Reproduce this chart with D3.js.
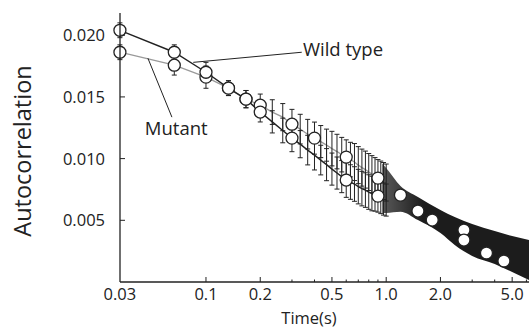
<!DOCTYPE html>
<html>
<head>
<meta charset="utf-8">
<script src="https://cdn.jsdelivr.net/npm/d3@7"></script>
<style>
  html, body { margin: 0; padding: 0; background: #fff; }
  svg { display: block; font-family: "Open Sans", "Noto Sans", sans-serif; }
</style>
</head>
<body>
<svg id="chart" width="529" height="329"></svg>
<script>
// frame times (s), 30 frames per second
const frameTimes = [0.0333, 0.0667, 0.1, 0.1333, 0.1667, 0.2, 0.2333, 0.2667, 0.3, 0.3333,
  0.3667, 0.4, 0.4333, 0.4667, 0.5, 0.5333, 0.5667, 0.6, 0.6333, 0.6667,
  0.7, 0.7333, 0.7667, 0.8, 0.8333, 0.8667, 0.9, 0.9333, 0.9667, 1.0]

const wildTypeMean = [0.0204, 0.01862, 0.0170, 0.01571, 0.01482, 0.01377, 0.01298, 0.01228, 0.01166, 0.01117,
  0.01069, 0.01028, 0.00988, 0.00951, 0.00915, 0.00883, 0.00854, 0.00826, 0.00810, 0.00794,
  0.00773, 0.00757, 0.00745, 0.00729, 0.00717, 0.00704, 0.00696, 0.00684, 0.00672, 0.00664]
const wildTypeErr = [0.0006, 0.0006, 0.0008, 0.0006, 0.0007, 0.0008, 0.0009, 0.0010, 0.0011, 0.0011,
  0.0012, 0.0012, 0.0012, 0.0013, 0.0013, 0.0013, 0.0013, 0.0014, 0.0014, 0.0014,
  0.0014, 0.0014, 0.0014, 0.0014, 0.0014, 0.0013, 0.0013, 0.0013, 0.0013, 0.0013]

const mutantMean = [0.01862, 0.01757, 0.0166, 0.01571, 0.01482, 0.01433, 0.01377, 0.01336, 0.01279, 0.01239,
  0.01198, 0.01166, 0.01138, 0.01109, 0.01081, 0.01057, 0.01032, 0.01012, 0.00992, 0.00972,
  0.00947, 0.00927, 0.00911, 0.00891, 0.00874, 0.00858, 0.00842, 0.00830, 0.00818, 0.00806]
const mutantErr = [0.0006, 0.0008, 0.0009, 0.0006, 0.0007, 0.0009, 0.0010, 0.0011, 0.0012, 0.0012,
  0.0012, 0.0013, 0.0013, 0.0013, 0.0014, 0.0014, 0.0014, 0.0014, 0.0014, 0.0015,
  0.0015, 0.0015, 0.0015, 0.0015, 0.0015, 0.0015, 0.0015, 0.0015, 0.0015, 0.0015]

// after 1 s the error bars of both series merge into one dark band
const bandTimes = [0.95, 1.0, 1.2, 1.5, 2.0, 2.4, 3.0, 4.0, 5.0, 6.2]
const bandUpper = [0.00960, 0.00923, 0.00777, 0.00688, 0.00583, 0.00526, 0.00470, 0.00413, 0.00372, 0.00340]
const bandLower = [0.00560, 0.00560, 0.00570, 0.00502, 0.00397, 0.00300, 0.00211, 0.00146, 0.00081, 0.00016]

// marked points
const wtCircleTimes = [0.0333, 0.0667, 0.1, 0.1333, 0.1667, 0.2, 0.3, 0.6, 0.9, 1.5, 1.8, 2.7, 3.6, 4.5]
const wtCircleValues = [0.0204, 0.01862, 0.0170, 0.01571, 0.01482, 0.01377, 0.01166, 0.00826, 0.00696, 0.00575, 0.00502, 0.00340, 0.00235, 0.00170]
const mutCircleTimes = [0.0333, 0.0667, 0.1, 0.1333, 0.1667, 0.2, 0.3, 0.4, 0.6, 0.9, 1.2, 2.7]
const mutCircleValues = [0.01862, 0.01757, 0.0166, 0.01571, 0.01482, 0.01433, 0.01279, 0.01166, 0.01012, 0.00842, 0.00704, 0.00421]

const xTickValues = [0.0333, 0.1, 0.2, 0.5, 1, 2, 5]
const xTickLabels = ["0.03", "0.1", "0.2", "0.5", "1.0", "2.0", "5.0"]
const xMinorTicks = [0.3, 0.4, 0.6, 0.7, 0.8, 0.9, 3, 4, 6]
const yTickValues = [0.005, 0.010, 0.015, 0.020]

const svg = d3.select("#chart")

const x = d3.scaleLog().domain([1 / 30, 6.2]).range([120, 529])
const y = d3.scaleLinear().domain([0, 0.0218]).range([282, 13])

const ink = "#222"

// lines
const line = d3.line()
  .x(d => x(d.t))
  .y(d => y(d.v))

const wtData = frameTimes.map((t, i) => ({ t: t, v: wildTypeMean[i], e: wildTypeErr[i] }))
const mutData = frameTimes.map((t, i) => ({ t: t, v: mutantMean[i], e: mutantErr[i] }))

svg.append("path")
  .datum(mutData)
  .attr("d", line)
  .attr("fill", "none")
  .attr("stroke", "#9a9a9a")
  .attr("stroke-width", 1.3)

svg.append("path")
  .datum(wtData)
  .attr("d", line)
  .attr("fill", "none")
  .attr("stroke", ink)
  .attr("stroke-width", 1.4)

// merged band (drawn under the last bars so they blend in)
const defs = svg.append("defs")
const grad = defs.append("linearGradient")
  .attr("id", "bandFill")
  .attr("gradientUnits", "userSpaceOnUse")
  .attr("x1", x(0.95)).attr("x2", x(1.6))
  .attr("y1", 0).attr("y2", 0)
grad.append("stop").attr("offset", 0).attr("stop-color", "#5a5a5a")
grad.append("stop").attr("offset", 1).attr("stop-color", "#1c1c1c")

const bandData = bandTimes.map((t, i) => ({ t: t, hi: bandUpper[i], lo: bandLower[i] }))
svg.append("path")
  .datum(bandData)
  .attr("d", d3.area()
    .x(d => x(d.t))
    .y0(d => y(d.lo))
    .y1(d => y(d.hi))
    .curve(d3.curveMonotoneX))
  .attr("fill", "url(#bandFill)")

// error bars
function drawErrorBars(data) {
  const g = svg.append("g")
    .attr("stroke", ink)
    .attr("stroke-width", 1)
  g.selectAll("line.bar")
    .data(data)
    .enter()
    .append("line")
    .attr("x1", d => x(d.t))
    .attr("x2", d => x(d.t))
    .attr("y1", d => y(d.v + d.e))
    .attr("y2", d => y(d.v - d.e))
  g.selectAll("line.capTop")
    .data(data)
    .enter()
    .append("line")
    .attr("x1", d => x(d.t) - 2.5)
    .attr("x2", d => x(d.t) + 2.5)
    .attr("y1", d => y(d.v + d.e))
    .attr("y2", d => y(d.v + d.e))
  g.selectAll("line.capBottom")
    .data(data)
    .enter()
    .append("line")
    .attr("x1", d => x(d.t) - 2.5)
    .attr("x2", d => x(d.t) + 2.5)
    .attr("y1", d => y(d.v - d.e))
    .attr("y2", d => y(d.v - d.e))
}
drawErrorBars(mutData)
drawErrorBars(wtData)

// circles
function drawCircles(times, values) {
  svg.append("g")
    .selectAll("circle")
    .data(times.map((t, i) => ({ t: t, v: values[i] })))
    .enter()
    .append("circle")
    .attr("cx", d => x(d.t))
    .attr("cy", d => y(d.v))
    .attr("r", 6)
    .attr("fill", "#fff")
    .attr("stroke", ink)
    .attr("stroke-width", 1.3)
}
drawCircles(mutCircleTimes, mutCircleValues)
drawCircles(wtCircleTimes, wtCircleValues)

// axes
svg.append("line")
  .attr("x1", x(1 / 30)).attr("x2", 529)
  .attr("y1", y(0)).attr("y2", y(0))
  .attr("stroke", ink).attr("stroke-width", 1.3)
svg.append("line")
  .attr("x1", x(1 / 30)).attr("x2", x(1 / 30))
  .attr("y1", y(0)).attr("y2", y(0.0218))
  .attr("stroke", ink).attr("stroke-width", 1.3)

const xAxis = svg.append("g")
xAxis.selectAll("line.major")
  .data(xTickValues.slice(1))
  .enter()
  .append("line")
  .attr("x1", d => x(d)).attr("x2", d => x(d))
  .attr("y1", y(0)).attr("y2", y(0) - 5)
  .attr("stroke", ink).attr("stroke-width", 1)
xAxis.selectAll("line.minor")
  .data(xMinorTicks)
  .enter()
  .append("line")
  .attr("x1", d => x(d)).attr("x2", d => x(d))
  .attr("y1", y(0)).attr("y2", y(0) - 2.5)
  .attr("stroke", ink).attr("stroke-width", 1)
xAxis.selectAll("text")
  .data(xTickValues)
  .enter()
  .append("text")
  .attr("x", d => x(d))
  .attr("y", 300)
  .attr("text-anchor", "middle")
  .attr("font-size", 16.5)
  .attr("fill", ink)
  .text((d, i) => xTickLabels[i])

const yAxis = svg.append("g")
yAxis.selectAll("line")
  .data(yTickValues)
  .enter()
  .append("line")
  .attr("x1", x(1 / 30)).attr("x2", x(1 / 30) + 5)
  .attr("y1", d => y(d)).attr("y2", d => y(d))
  .attr("stroke", ink).attr("stroke-width", 1)
yAxis.selectAll("text")
  .data(yTickValues)
  .enter()
  .append("text")
  .attr("x", 105)
  .attr("y", d => y(d))
  .attr("dy", "0.36em")
  .attr("text-anchor", "end")
  .attr("font-size", 16.5)
  .attr("fill", ink)
  .text(d => d3.format(".3f")(d))

svg.append("text")
  .attr("transform", "translate(31," + 151 + ") rotate(-90)")
  .attr("text-anchor", "middle")
  .attr("font-size", 23.5)
  .attr("fill", ink)
  .text("Autocorrelation")

svg.append("text")
  .attr("x", 309)
  .attr("y", 324)
  .attr("text-anchor", "middle")
  .attr("font-size", 16.5)
  .attr("fill", ink)
  .text("Time(s)")

// annotations
const notes = [
  { label: "Wild type", from: [0.085, 0.0178], to: [0.34, 0.01862], text: [0.345, 0.0183], anchor: "start" },
  { label: "Mutant", from: [0.0476, 0.01814], to: [0.0647, 0.01336], text: [0.0458, 0.0119], anchor: "start" }
]
notes.forEach(n => {
  svg.append("line")
    .attr("x1", x(n.from[0])).attr("y1", y(n.from[1]))
    .attr("x2", x(n.to[0])).attr("y2", y(n.to[1]))
    .attr("stroke", ink).attr("stroke-width", 1)
  svg.append("text")
    .attr("x", x(n.text[0]))
    .attr("y", y(n.text[1]))
    .attr("text-anchor", n.anchor)
    .attr("font-size", 18.5)
    .attr("fill", ink)
    .text(n.label)
})
</script>
</body>
</html>
